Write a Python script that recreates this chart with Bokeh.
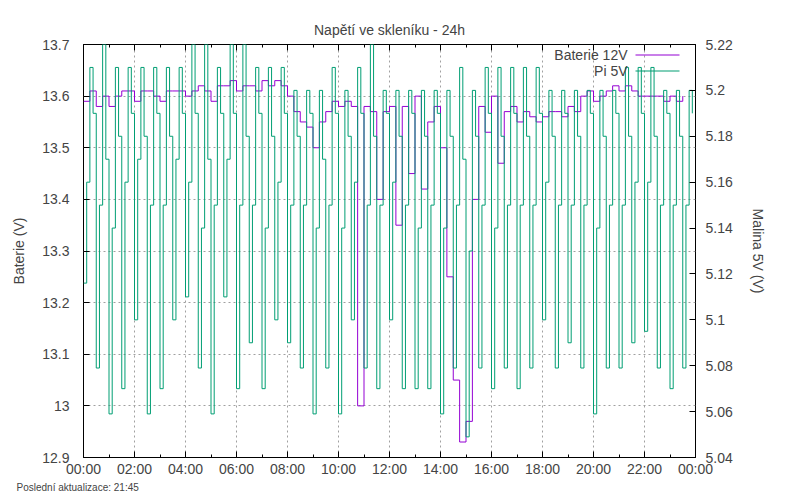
from bokeh.plotting import figure
from bokeh.models import (Range1d, LinearAxis, FixedTicker, Label, BoxAnnotation, Title)
from bokeh.embed import file_html
from bokeh.resources import INLINE
import numpy as np

# baterie 12V, krok 15 minut
bat_step = 0.25
baterie = [13.59, 13.61, 13.58, 13.60, 13.58, 13.60, 13.61, 13.61, 13.59, 13.61,
           13.61, 13.60, 13.59, 13.61, 13.61, 13.61, 13.60, 13.61, 13.62, 13.61,
           13.59, 13.62, 13.62, 13.63, 13.61, 13.62, 13.62, 13.61, 13.63, 13.62,
           13.63, 13.62, 13.60, 13.57, 13.55, 13.54, 13.50, 13.55, 13.57, 13.59,
           13.58, 13.59, 13.58, 13.00, 13.58, 13.57, 13.40, 13.57, 13.58, 13.35,
           13.58, 13.45, 13.60, 13.42, 13.55, 13.58, 13.50, 13.25, 13.05, 12.93,
           12.97, 13.40, 13.58, 13.53, 13.60, 13.47, 13.57, 13.58, 13.55, 13.57,
           13.56, 13.55, 13.56, 13.57, 13.57, 13.56, 13.58, 13.57, 13.60, 13.61,
           13.59, 13.60, 13.61, 13.62, 13.61, 13.62, 13.61, 13.60, 13.60, 13.60,
           13.60, 13.59, 13.60, 13.59, 13.60]

# Pi 5V, krok 7.5 minut
pi_step = 0.125
pi5 = [5.116, 5.16, 5.21, 5.19,  5.079, 5.15, 5.22, 5.17,  5.059, 5.14, 5.21, 5.18,
       5.07, 5.16, 5.21, 5.19,   5.10, 5.17, 5.21, 5.18,   5.059, 5.15, 5.21, 5.19,
       5.07, 5.15, 5.21, 5.18,   5.10, 5.17, 5.21, 5.19,   5.11, 5.16, 5.22, 5.19,
       5.079, 5.14, 5.22, 5.17,  5.059, 5.15, 5.21, 5.19,  5.11, 5.17, 5.22, 5.19,
       5.07, 5.15, 5.22, 5.18,   5.09, 5.15, 5.21, 5.19,   5.07, 5.14, 5.21, 5.18,
       5.10, 5.16, 5.21, 5.19,   5.09, 5.15, 5.20, 5.18,   5.079, 5.15, 5.20, 5.19,
       5.059, 5.14, 5.20, 5.17,  5.079, 5.15, 5.21, 5.19,  5.059, 5.14, 5.20, 5.18,
       5.10, 5.16, 5.21, 5.19,   5.079, 5.15, 5.22, 5.18,  5.07, 5.15, 5.20, 5.19,
       5.10, 5.16, 5.20, 5.18,   5.07, 5.15, 5.20, 5.19,   5.07, 5.14, 5.20, 5.18,
       5.07, 5.15, 5.20, 5.19,   5.059, 5.14, 5.20, 5.18,  5.079, 5.15, 5.21, 5.17,
       5.049, 5.13, 5.20, 5.18,  5.079, 5.15, 5.21, 5.19,  5.07, 5.14, 5.21, 5.18,
       5.079, 5.15, 5.21, 5.19,  5.07, 5.15, 5.21, 5.18,   5.079, 5.15, 5.21, 5.19,
       5.10, 5.16, 5.20, 5.18,   5.079, 5.15, 5.20, 5.19,  5.09, 5.15, 5.20, 5.18,
       5.079, 5.15, 5.20, 5.19,  5.059, 5.14, 5.20, 5.18,  5.079, 5.15, 5.20, 5.19,
       5.079, 5.15, 5.21, 5.18,  5.09, 5.16, 5.21, 5.19,   5.095, 5.16, 5.21, 5.18,
       5.079, 5.15, 5.20, 5.19,  5.07, 5.15, 5.20, 5.18,   5.079, 5.15, 5.20, 5.19]

x_ticks = list(range(0, 25, 2))
x_labels = ["00:00", "02:00", "04:00", "06:00", "08:00", "10:00", "12:00",
            "14:00", "16:00", "18:00", "20:00", "22:00", "00:00"]
left_ticks = [12.9, 13.0, 13.1, 13.2, 13.3, 13.4, 13.5, 13.6, 13.7]
right_ticks = [5.04, 5.06, 5.08, 5.10, 5.12, 5.14, 5.16, 5.18, 5.20, 5.22]

FONT = "Liberation Sans"
PURPLE = "#9400d3"
GREEN = "#009e73"

t_bat = np.arange(len(baterie)) * bat_step
t_pi = np.arange(len(pi5)) * pi_step

p = figure(width=784, height=492, output_backend="svg", toolbar_location=None,
           x_range=Range1d(0, 24), y_range=Range1d(12.9, 13.7),
           min_border_left=83, min_border_right=89, min_border_top=44,
           min_border_bottom=0, title="Napětí ve skleníku - 24h")
p.extra_y_ranges = {"pi": Range1d(5.04, 5.22)}

p.title.align = "center"
p.title.text_font = FONT
p.title.text_font_size = "14px"
p.title.text_font_style = "normal"
p.title.offset = 0
p.title.standoff = 14

p.outline_line_color = "black"
p.outline_line_alpha = 1
p.outline_line_width = 1
p.background_fill_color = "white"

for g in (p.xgrid, p.ygrid):
    g.grid_line_color = "#a0a0a0"
    g.grid_line_dash = "2 3"
    g.grid_line_width = 1

p.xgrid.ticker = FixedTicker(ticks=x_ticks)
p.ygrid.ticker = FixedTicker(ticks=left_ticks)


def style_axis(ax):
    ax.major_tick_in = 6
    ax.major_tick_out = 0
    ax.minor_tick_in = 3
    ax.minor_tick_out = 0
    ax.axis_line_color = None
    ax.major_label_text_font = FONT
    ax.major_label_text_font_size = "14px"
    ax.axis_label_text_font = FONT
    ax.axis_label_text_font_size = "14px"
    ax.axis_label_text_font_style = "normal"
    ax.major_label_standoff = 8


xa = p.xaxis[0]
xa.ticker = FixedTicker(ticks=x_ticks, minor_ticks=list(range(0, 25)))
xa.major_label_overrides = {t: l for t, l in zip(x_ticks, x_labels)}
style_axis(xa)
xa.major_label_standoff = 3

ya = p.yaxis[0]
ya.ticker = FixedTicker(ticks=left_ticks)
ya.major_label_overrides = {t: ("13" if t == 13.0 else "%.1f" % t) for t in left_ticks}
ya.axis_label = "Baterie (V)"
style_axis(ya)
ya.major_label_standoff = 14
ya.axis_label_standoff = 12

ra = LinearAxis(y_range_name="pi", axis_label="Malina 5V (V)",
                ticker=FixedTicker(ticks=right_ticks))
ra.major_label_overrides = {t: ("%.2f" % t).rstrip("0").rstrip(".") for t in right_ticks}
style_axis(ra)
ra.major_label_standoff = 10
ra.axis_label_standoff = 14
p.add_layout(ra, "right")

ta = LinearAxis(ticker=FixedTicker(ticks=x_ticks, minor_ticks=list(range(0, 25))))
style_axis(ta)
ta.major_label_overrides = {t: "" for t in x_ticks}
p.add_layout(ta, "above")

p.step(t_bat, baterie, line_color=PURPLE, line_width=1, mode="after")
p.step(t_pi, pi5, line_color=GREEN, line_width=1, mode="after", y_range_name="pi")

# legenda ve stylu gnuplotu (souradnice vuci plose grafu)
for i, (name, col) in enumerate([("Baterie 12V", PURPLE), ("Pi 5V", GREEN)]):
    ytop = 403 - i * 16
    p.add_layout(Label(x=544, y=ytop, x_units="screen", y_units="screen",
                       text=name, text_align="right", text_baseline="middle",
                       text_font=FONT, text_font_size="14px"))
    p.add_layout(BoxAnnotation(left=552, right=596, bottom=ytop - 1, top=ytop,
                               left_units="screen", right_units="screen",
                               top_units="screen", bottom_units="screen",
                               fill_color=col, fill_alpha=1, line_color=None,
                               level="overlay"))

foot = Title(text="Poslední aktualizace: 21:45", align="left", offset=-67,
             text_font=FONT, text_font_size="10px", text_font_style="normal",
             standoff=0)
p.add_layout(foot, "below")

open("out.html", "w").write(file_html(p, INLINE))
